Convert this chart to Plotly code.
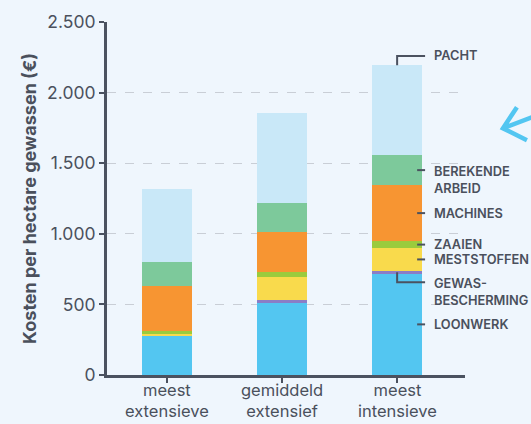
import plotly.graph_objects as go

categories = ["meest<br>extensieve", "gemiddeld<br>extensief", "meest<br>intensieve"]
series_names = ["LOONWERK", "GEWAS-<br>BESCHERMING", "MESTSTOFFEN", "ZAAIEN",
                "MACHINES", "BEREKENDE<br>ARBEID", "PACHT"]
loonwerk = [278, 510, 717]
gewasbescherming = [3, 21, 21]
meststoffen = [12, 163, 161]
zaaien = [19, 35, 49]
machines = [321, 283, 397]
berekende_arbeid = [168, 205, 212]
pacht = [516, 637, 637]
series_values = [loonwerk, gewasbescherming, meststoffen, zaaien, machines, berekende_arbeid, pacht]
colors = ["#53C6F1", "#8B7DC6", "#F9DA4C", "#9BCB3D", "#F79532", "#7DC99B", "#C9E8F8"]
tick_vals = [0, 500, 1000, 1500, 2000, 2500]
tick_text = ["0", "500", "1.000", "1.500", "2.000", "2.500"]

BG = "#EFF6FD"
TXT = "#4A505C"
FONT = "Inter"

xs = list(range(len(categories)))
fig = go.Figure()
for name, vals, col in zip(series_names, series_values, colors):
    fig.add_trace(go.Bar(x=xs, y=vals, name=name, marker=dict(color=col, line=dict(width=0)),
                         width=0.435, hoverinfo="skip"))

# category labels
for xi, cat in zip(xs, categories):
    fig.add_annotation(x=xi, y=-0.0113, xref="x", yref="paper", text=cat,
                       showarrow=False, xanchor="center", yanchor="top", borderpad=0,
                       font=dict(family=FONT, size=16.5, color=TXT))

# labels for last bar, at segment midpoints
last = len(categories) - 1
cum = 0
lab_x0, lab_x1, text_x = last + 0.174, last + 0.243, last + 0.30
line_style = dict(color="#4B5260", width=2)
for i, (name, vals) in enumerate(zip(series_names, series_values)):
    v = vals[last]
    lo, hi = cum, cum + v
    cum = hi
    two = "<br>" in name
    if name == "PACHT":
        ly = hi + 66
        fig.add_shape(type="path", xref="x", yref="y",
                      path=f"M {last} {hi} L {last} {ly} L {lab_x1} {ly}", line=line_style)
    elif name.startswith("GEWAS"):
        ly = (lo + hi) / 2 - 70
        fig.add_shape(type="path", xref="x", yref="y",
                      path=f"M {last} {(lo+hi)/2} L {last} {ly} L {lab_x1} {ly}", line=line_style)
    else:
        ly = (lo + hi) / 2
        fig.add_shape(type="line", xref="x", yref="y", x0=lab_x0, x1=lab_x1, y0=ly, y1=ly,
                      line=line_style)
    fig.add_annotation(x=text_x, y=ly, xref="x", yref="y", text=name, showarrow=False,
                       xanchor="left", yanchor="top" if two else "middle",
                       yshift=8 if two else 0, align="left",
                       font=dict(family=FONT, size=12.8, color=TXT, weight=600))

# decorative arrow
fig.add_shape(type="path", xref="paper", yref="paper",
              path="M 1.145 0.7586 L 1.106 0.699 L 1.173 0.665 M 1.106 0.699 L 1.20 0.735",
              line=dict(color="#53C6F1", width=4.5))

fig.update_layout(
    width=531, height=424,
    barmode="stack",
    showlegend=False,
    paper_bgcolor=BG, plot_bgcolor=BG,
    margin=dict(l=107, r=66, t=22, b=49),
    font=dict(family=FONT, color=TXT),
    bargap=0,
)
fig.update_xaxes(
    tickvals=xs, showticklabels=False, range=[-0.522, 2.59],
    showline=True, linecolor="#4B5260", linewidth=3,
    ticks="outside", ticklen=5, tickwidth=2, tickcolor="#4B5260",
    showgrid=False, zeroline=False, automargin=False,
)
fig.update_yaxes(
    range=[0, 2500], tickvals=tick_vals, ticktext=tick_text,
    showline=True, linecolor="#4B5260", linewidth=3,
    ticks="outside", ticklen=5, tickwidth=2, tickcolor="#4B5260",
    tickfont=dict(family=FONT, size=17.5, color=TXT),
    showgrid=True, gridcolor="#C9CED6", griddash="dash", gridwidth=1,
    zeroline=False, automargin=False,
    title=dict(text="Kosten per hectare gewassen (€)",
               font=dict(family=FONT, size=18, color=TXT, weight="bold"), standoff=6),
)

fig.write_html("out.html", config={"displayModeBar": False},
               post_script="document.body.style.margin='0';document.body.style.background='#EFF6FD';")
